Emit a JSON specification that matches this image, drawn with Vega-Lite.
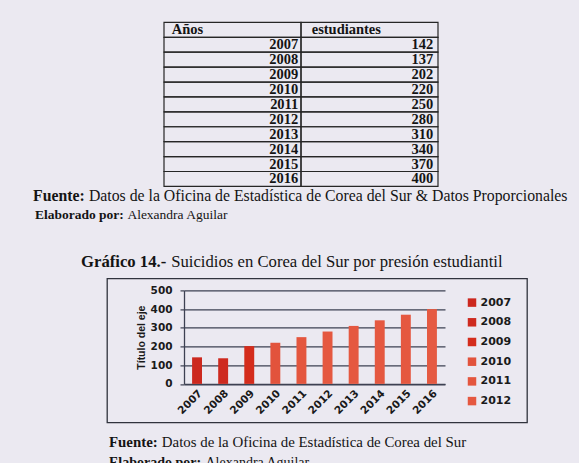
{
  "$schema": "https://vega.github.io/schema/vega-lite/v6.json",
  "background": "#ebe9f1",
  "padding": {"left": 33, "top": 21.4, "right": 11, "bottom": 0},
  "spacing": 0,
  "config": {
    "view": {"stroke": null},
    "font": "Liberation Serif"
  },
  "datasets": {
    "datos": [
      {"año": "2007", "estudiantes": 142},
      {"año": "2008", "estudiantes": 137},
      {"año": "2009", "estudiantes": 202},
      {"año": "2010", "estudiantes": 220},
      {"año": "2011", "estudiantes": 250},
      {"año": "2012", "estudiantes": 280},
      {"año": "2013", "estudiantes": 310},
      {"año": "2014", "estudiantes": 340},
      {"año": "2015", "estudiantes": 370},
      {"año": "2016", "estudiantes": 400}
    ]
  },
  "vconcat": [
    {
      "width": 405,
      "height": 165.5,
      "data": {"name": "datos"},
      "layer": [
        {
          "mark": {"type": "rect", "filled": false, "stroke": "#262626", "strokeWidth": 1.2},
          "encoding": {
            "x": {"datum": "Años", "type": "nominal", "axis": null, "scale": {"domain": ["Años", "estudiantes"], "range": [131, 405], "paddingInner": 0, "paddingOuter": 0}},
            "y": {"field": "año", "type": "nominal", "axis": null, "scale": {"domain": ["Años", "2007", "2008", "2009", "2010", "2011", "2012", "2013", "2014", "2015", "2016"], "range": [0, 164], "paddingInner": 0, "paddingOuter": 0}}
          }
        },
        {
          "mark": {"type": "rect", "filled": false, "stroke": "#262626", "strokeWidth": 1.2},
          "encoding": {
            "x": {"datum": "estudiantes", "type": "nominal", "axis": null},
            "y": {"field": "año", "type": "nominal", "axis": null}
          }
        },
        {
          "mark": {"type": "text", "align": "right", "baseline": "middle", "dx": -2.7, "dy": 0.5, "font": "Liberation Serif", "fontWeight": "bold", "fontSize": 14.5, "color": "#141414"},
          "encoding": {
            "x": {"datum": "Años", "type": "nominal", "bandPosition": 1, "axis": null},
            "y": {"field": "año", "type": "nominal", "axis": null},
            "text": {"field": "año"}
          }
        },
        {
          "mark": {"type": "text", "align": "right", "baseline": "middle", "dx": -4.7, "dy": 0.5, "font": "Liberation Serif", "fontWeight": "bold", "fontSize": 14.5, "color": "#141414"},
          "encoding": {
            "x": {"datum": "estudiantes", "type": "nominal", "bandPosition": 1, "axis": null},
            "y": {"field": "año", "type": "nominal", "axis": null},
            "text": {"field": "estudiantes"}
          }
        },
        {
          "data": {"values": [{"encabezado": "Años", "sangria": "a"}, {"encabezado": "estudiantes", "sangria": "b"}]},
          "layer": [
            {
              "mark": {"type": "rect", "filled": false, "stroke": "#262626", "strokeWidth": 1.2},
              "encoding": {
                "x": {"field": "encabezado", "type": "nominal", "axis": null},
                "y": {"datum": "Años", "type": "nominal", "axis": null}
              }
            },
            {
              "transform": [{"filter": "datum.sangria == 'a'"}],
              "mark": {"type": "text", "align": "left", "baseline": "middle", "dx": 7.7, "dy": 0.5, "font": "Liberation Serif", "fontWeight": "bold", "fontSize": 14.5, "color": "#141414"},
              "encoding": {
                "x": {"field": "encabezado", "type": "nominal", "bandPosition": 0, "axis": null},
                "y": {"datum": "Años", "type": "nominal", "axis": null},
                "text": {"field": "encabezado"}
              }
            },
            {
              "transform": [{"filter": "datum.sangria == 'b'"}],
              "mark": {"type": "text", "align": "left", "baseline": "middle", "dx": 10.7, "dy": 0.5, "font": "Liberation Serif", "fontWeight": "bold", "fontSize": 14.5, "color": "#141414"},
              "encoding": {
                "x": {"field": "encabezado", "type": "nominal", "bandPosition": 0, "axis": null},
                "y": {"datum": "Años", "type": "nominal", "axis": null},
                "text": {"field": "encabezado"}
              }
            }
          ]
        }
      ]
    },
    {
      "spacing": 3.9,
      "hconcat": [
        {"width": 1, "height": 7, "data": {"values": []}, "mark": "text", "encoding": {},
         "title": {"text": "Fuente:", "anchor": "start", "orient": "top", "offset": -15.8, "baseline": "alphabetic", "font": "Liberation Serif", "fontSize": 15.8, "fontWeight": "bold", "color": "#141414", "dx": 0}},
        {"width": 1, "height": 7, "data": {"values": []}, "mark": "text", "encoding": {},
         "title": {"text": "Datos de la Oficina de Estadística de Corea del Sur & Datos Proporcionales", "anchor": "start", "orient": "top", "offset": -15.8, "baseline": "alphabetic", "font": "Liberation Serif", "fontSize": 15.8, "fontWeight": "normal", "color": "#141414"}}
      ]
    },
    {
      "spacing": 3.4,
      "hconcat": [
        {"width": 1, "height": 34.5, "data": {"values": []}, "mark": "text", "encoding": {},
         "title": {"text": "Elaborado por:", "anchor": "start", "orient": "top", "offset": -13.5, "baseline": "alphabetic", "font": "Liberation Serif", "fontSize": 13.5, "fontWeight": "bold", "color": "#141414", "dx": 2}},
        {"width": 1, "height": 34.5, "data": {"values": []}, "mark": "text", "encoding": {},
         "title": {"text": "Alexandra Aguilar", "anchor": "start", "orient": "top", "offset": -13.5, "baseline": "alphabetic", "font": "Liberation Serif", "fontSize": 13.5, "fontWeight": "normal", "color": "#141414"}}
      ]
    },
    {
      "spacing": 4.2,
      "hconcat": [
        {"width": 1, "height": 9.85, "data": {"values": []}, "mark": "text", "encoding": {},
         "title": {"text": "Gráfico 14.-", "anchor": "start", "orient": "top", "offset": -16.7, "baseline": "alphabetic", "font": "Liberation Serif", "fontSize": 16.7, "fontWeight": "bold", "color": "#141414", "dx": 48}},
        {"width": 1, "height": 9.85, "data": {"values": []}, "mark": "text", "encoding": {},
         "title": {"text": "Suicidios en Corea del Sur por presión estudiantil", "anchor": "start", "orient": "top", "offset": -16.7, "baseline": "alphabetic", "font": "Liberation Serif", "fontSize": 16.7, "fontWeight": "normal", "color": "#141414"}}
      ]
    },
    {
      "spacing": 0,
      "hconcat": [
        {"width": 73, "height": 156.5, "data": {"values": []}, "mark": "text", "encoding": {}},
        {
          "width": 420,
          "height": 144,
          "view": {"stroke": "#30333d", "strokeWidth": 1.3},
          "data": {"name": "datos"},
          "mark": {"type": "bar"},
          "encoding": {
            "x": {
              "field": "año", "type": "nominal",
              "scale": {"range": [77, 338], "paddingInner": 0.62, "paddingOuter": 0.31},
              "axis": {"title": null, "offset": -38.5, "labelAngle": -45, "labelFont": "DejaVu Sans", "labelFontWeight": "bold", "labelFontSize": 10.5, "labelColor": "#1a1a1a", "ticks": false, "domain": true, "domainColor": "#3d4152", "domainWidth": 1.3, "labelPadding": 4, "grid": false}
            },
            "y": {
              "field": "estudiantes", "type": "quantitative",
              "scale": {"domain": [0, 500], "range": [105.5, 12]},
              "axis": {"title": "Título del eje", "offset": -77, "values": [0, 100, 200, 300, 400, 500], "grid": true, "gridColor": "#3d4152", "gridWidth": 1.2, "domain": true, "domainColor": "#3d4152", "domainWidth": 1.3, "ticks": true, "tickSize": 4, "tickColor": "#3d4152", "tickWidth": 1.2, "labelFont": "DejaVu Sans", "labelFontWeight": "bold", "labelFontSize": 10.5, "labelColor": "#1a1a1a", "labelPadding": 8, "titleFont": "Liberation Sans", "titleFontWeight": "bold", "titleFontSize": 10.5, "titlePadding": 4, "titleColor": "#1a1a1a"}
            },
            "color": {
              "field": "año", "type": "nominal",
              "scale": {
                "domain": ["2007", "2008", "2009", "2010", "2011", "2012", "2013", "2014", "2015", "2016"],
                "range": ["#cc281e", "#ce2a1f", "#d42c1c", "#e2533c", "#e4563e", "#e55840", "#e55840", "#e55840", "#e55840", "#e55a42"]
              },
              "legend": {"orient": "none", "legendX": 433.5, "legendY": 274.7, "values": ["2007", "2008", "2009", "2010", "2011", "2012"], "title": null, "symbolType": "square", "symbolSize": 72, "symbolStrokeWidth": 0, "labelFont": "DejaVu Sans", "labelFontWeight": "bold", "labelFontSize": 11, "labelColor": "#1a1a1a", "rowPadding": 7.7, "labelOffset": 3, "padding": 0}
            }
          }
        }
      ]
    },
    {
      "spacing": 3.8,
      "hconcat": [
        {"width": 1, "height": 9, "data": {"values": []}, "mark": "text", "encoding": {},
         "title": {"text": "Fuente:", "anchor": "start", "orient": "top", "offset": -14.9, "baseline": "alphabetic", "font": "Liberation Serif", "fontSize": 14.9, "fontWeight": "bold", "color": "#141414", "dx": 76}},
        {"width": 1, "height": 9, "data": {"values": []}, "mark": "text", "encoding": {},
         "title": {"text": "Datos de la Oficina de Estadística de Corea del Sur", "anchor": "start", "orient": "top", "offset": -14.9, "baseline": "alphabetic", "font": "Liberation Serif", "fontSize": 14.9, "fontWeight": "normal", "color": "#141414"}}
      ]
    },
    {
      "spacing": 3.5,
      "hconcat": [
        {"width": 1, "height": 1, "data": {"values": []}, "mark": "text", "encoding": {},
         "title": {"text": "Elaborado por:", "anchor": "start", "orient": "top", "offset": -14, "baseline": "alphabetic", "font": "Liberation Serif", "fontSize": 14, "fontWeight": "bold", "color": "#141414", "dx": 76}},
        {"width": 1, "height": 1, "data": {"values": []}, "mark": "text", "encoding": {},
         "title": {"text": "Alexandra Aguilar", "anchor": "start", "orient": "top", "offset": -14, "baseline": "alphabetic", "font": "Liberation Serif", "fontSize": 14, "fontWeight": "normal", "color": "#141414"}}
      ]
    }
  ]
}
